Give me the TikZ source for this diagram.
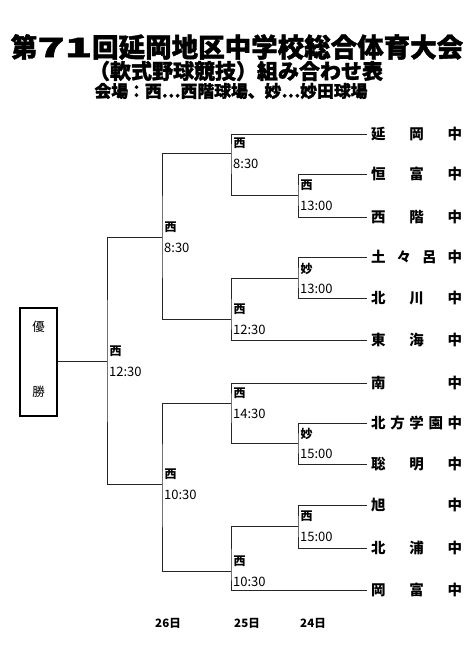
\documentclass[tikz,border=0pt]{standalone}
\usepackage{fontspec}
\setmainfont{Noto Sans CJK JP}
\newfontfamily\heavyjp{Noto Sans CJK JP}[BoldFeatures={FakeBold=1.5}]
\usetikzlibrary{calc}
\tikzset{
  bline/.style={line width=1pt, draw=black!85},
  team/.style={anchor=west, inner xsep=4pt, inner ysep=0pt, font=\bfseries\fontsize{14.5}{14.5}\selectfont},
  venue/.style={anchor=west, inner sep=0pt, font=\bfseries\fontsize{12}{12}\selectfont},
  timelab/.style={anchor=west, inner sep=0pt, font=\fontsize{13}{13}\selectfont},
  titleA/.style={inner sep=0pt, font=\heavyjp\bfseries\fontsize{26.5}{27}\selectfont},
  titleB/.style={inner sep=0pt, font=\heavyjp\bfseries\fontsize{21}{22}\selectfont},
  titleC/.style={inner sep=0pt, font=\heavyjp\bfseries\fontsize{16.8}{17}\selectfont},
  boxtxt/.style={inner sep=0pt, font=\fontsize{12.5}{13}\selectfont},
  datelab/.style={inner sep=0pt, font=\bfseries\fontsize{11.5}{12}\selectfont},
}
\newcommand\tname[1]{\hbox to 91pt{#1}}
\newcommand\lab[3]{%
  \node[venue] (#1v) at ($(#1)+(2.5,-9.5)$) {#2};
  \node[timelab] (#1t) at ($(#1)+(2,10.5)$) {#3};}
\begin{document}
\begin{tikzpicture}[x=1pt,y=-1pt]
\useasboundingbox (0,0) rectangle (474,670);
% titles
\node[titleA] (title1) at (237,47) {第\scalebox{1.7}[1]{71}回延岡地区中学校総合体育大会};
\node[titleB] (title2) at (236,71) {（軟式野球競技）組み合わせ表};
\node[titleC] (title3) at (231,91) {会場：西…西階球場、妙…妙田球場};
% teams
\node[team] (t1) at (367,134) {\tname{延\hfil 岡\hfil 中}};
\node[team] (t2) at (367,174) {\tname{恒\hfil 富\hfil 中}};
\node[team] (t3) at (367,217) {\tname{西\hfil 階\hfil 中}};
\node[team] (t4) at (367,257) {\tname{土\hfil 々\hfil 呂\hfil 中}};
\node[team] (t5) at (367,298) {\tname{北\hfil 川\hfil 中}};
\node[team] (t6) at (367,340) {\tname{東\hfil 海\hfil 中}};
\node[team] (t7) at (367,383) {\tname{南\hfil 中}};
\node[team] (t8) at (367,423) {\tname{北\hfil 方\hfil 学\hfil 園\hfil 中}};
\node[team] (t9) at (367,464) {\tname{聡\hfil 明\hfil 中}};
\node[team] (t10) at (367,505) {\tname{旭\hfil 中}};
\node[team] (t11) at (367,548) {\tname{北\hfil 浦\hfil 中}};
\node[team] (t12) at (367,590) {\tname{岡\hfil 富\hfil 中}};
% junctions
\coordinate (r1a) at (298,195);
\coordinate (r1b) at (298,278);
\coordinate (r1c) at (298,443);
\coordinate (r1d) at (298,526);
\coordinate (r2a) at (231,153);
\coordinate (r2b) at (231,319);
\coordinate (r2c) at (231,403);
\coordinate (r2d) at (231,571);
\coordinate (r3a) at (162,237);
\coordinate (r3b) at (162,484);
\coordinate (fin) at (107,361);
% champion box
\node[draw, line width=1.6pt, minimum width=37pt, minimum height=108pt, inner sep=0pt] (champ) at (38.5,362) {};
\node[boxtxt] (yu) at (38.5,327) {優};
\node[boxtxt] (sho) at (38.5,392) {勝};
% brackets
\draw[bline] (t2.west) -| (r1a) |- (t3.west);
\draw[bline] (t4.west) -| (r1b) |- (t5.west);
\draw[bline] (t8.west) -| (r1c) |- (t9.west);
\draw[bline] (t10.west) -| (r1d) |- (t11.west);
\draw[bline] (t1.west) -| (r2a) |- (r1a);
\draw[bline] (r1b) -| (r2b) |- (t6.west);
\draw[bline] (t7.west) -| (r2c) |- (r1c);
\draw[bline] (r1d) -| (r2d) |- (t12.west);
\draw[bline] (r2a) -| (r3a) |- (r2b);
\draw[bline] (r2c) -| (r3b) |- (r2d);
\draw[bline] (r3a) -| (fin) |- (r3b);
\draw[bline] (fin) -- (champ.east |- fin);
% labels
\lab{r1a}{西}{13:00}
\lab{r1b}{妙}{13:00}
\lab{r1c}{妙}{15:00}
\lab{r1d}{西}{15:00}
\lab{r2a}{西}{8:30}
\lab{r2b}{西}{12:30}
\lab{r2c}{西}{14:30}
\lab{r2d}{西}{10:30}
\lab{r3a}{西}{8:30}
\lab{r3b}{西}{10:30}
\lab{fin}{西}{12:30}
% dates
\node[datelab] (d26) at (168,623) {26日};
\node[datelab] (d25) at (247,623) {25日};
\node[datelab] (d24) at (313,623) {24日};
\end{tikzpicture}
\end{document}
